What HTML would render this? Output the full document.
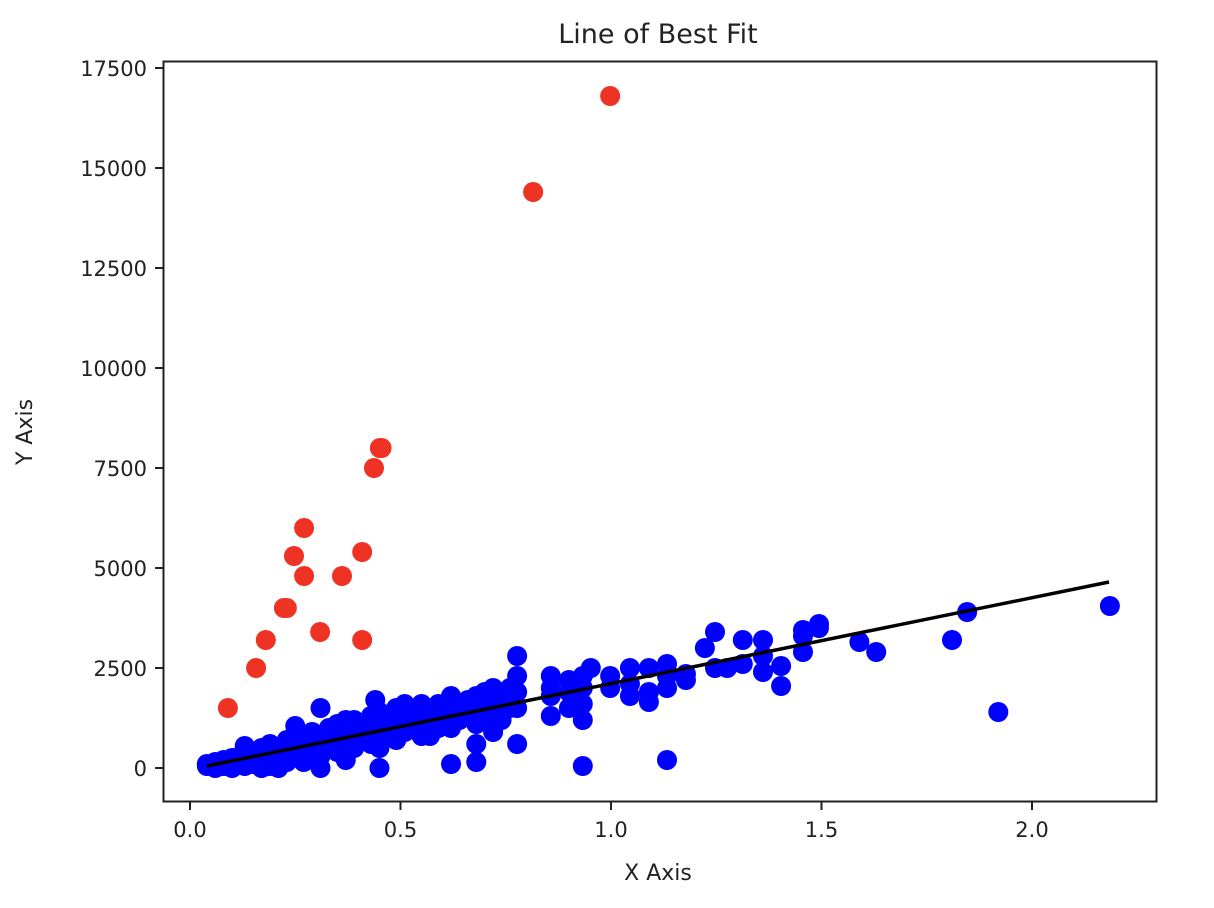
<!DOCTYPE html>
<html><head><meta charset="utf-8"><style>
body{margin:0;background:#fff;}
svg{display:block;font-family:"DejaVu Sans","Liberation Sans",sans-serif;}
</style></head><body>
<svg id="chart" width="1214" height="908" viewBox="0 0 1214 908" xmlns="http://www.w3.org/2000/svg">
<rect width="1214" height="908" fill="#fff"/>
<text x="658" y="43" font-size="27" text-anchor="middle" fill="#222">Line of Best Fit</text>
<text x="658" y="880" font-size="22" text-anchor="middle" fill="#222">X Axis</text>
<text x="0" y="0" font-size="22" text-anchor="middle" fill="#222" transform="translate(32,432) rotate(-90)">Y Axis</text>
<g id="plot"></g>
<g id="xticks"></g>
<g id="yticks"></g>
<rect x="163.5" y="61.5" width="993" height="740" fill="none" stroke="#222" stroke-width="2"/>
</svg>
<script>
const xTicks=[0.0,0.5,1.0,1.5,2.0];
const xTickLabels=["0.0","0.5","1.0","1.5","2.0"];
const yTicks=[0,2500,5000,7500,10000,12500,15000,17500];
const yTickLabels=["0","2500","5000","7500","10000","12500","15000","17500"];
const redPoints=[[0.09,1500],[0.157,2500],[0.18,3200],[0.223,4000],[0.23,4000],[0.247,5300],[0.271,6000],[0.271,4800],[0.309,3400],[0.361,4800],[0.409,5400],[0.409,3200],[0.437,7500],[0.451,8000],[0.455,8000],[0.815,14400],[0.998,16800]];
const bluePoints=[[2.185,4050],[1.92,1400],[1.846,3900],[1.81,3200],[1.63,2900],[1.59,3150],[1.494,3600],[1.494,3500],[1.456,3450],[1.456,2900],[1.456,3300],[1.404,2550],[1.404,2050],[1.361,3200],[1.361,2400],[1.361,2800],[1.313,3200],[1.313,2600],[1.247,3400],[1.247,2500],[1.276,2500],[1.223,3000],[1.178,2350],[1.178,2200],[1.133,2600],[1.133,2000],[1.133,200],[1.133,2300],[1.09,2500],[1.09,1650],[1.09,1900],[1.045,2500],[1.045,1800],[1.045,2100],[0.998,2300],[0.998,2000],[0.952,2500],[0.933,50],[0.933,1200],[0.933,1600],[0.933,2300],[0.933,2000],[0.9,2200],[0.9,1500],[0.9,1900],[0.857,2300],[0.857,1300],[0.857,1800],[0.857,2000],[0.777,2800],[0.777,600],[0.777,2300],[0.777,1500],[0.777,1900],
[0.04,100],[0.04,50],[0.06,150],[0.06,0],[0.08,200],[0.08,50],[0.08,100],[0.1,250],[0.1,0],[0.1,150],[0.12,300],[0.12,100],[0.13,550],[0.13,50],[0.13,200],[0.15,400],[0.15,100],[0.17,350],[0.17,0],[0.17,500],[0.19,600],[0.19,200],[0.19,50],[0.21,500],[0.21,0],[0.21,300],[0.23,700],[0.23,150],[0.23,400],[0.25,1050],[0.25,300],[0.25,600],[0.27,800],[0.27,400],[0.27,150],[0.29,900],[0.29,500],[0.31,1500],[0.31,0],[0.31,700],[0.31,300],[0.33,1000],[0.33,600],[0.35,1100],[0.35,400],[0.35,800],[0.37,900],[0.37,200],[0.37,1200],[0.39,1200],[0.39,700],[0.39,500],[0.41,1100],[0.41,800],[0.43,1300],[0.43,600],[0.43,900],[0.44,1700],[0.44,1000],[0.45,1400],[0.45,0],[0.45,500],[0.45,800],[0.47,1200],[0.47,900],[0.49,1500],[0.49,700],[0.49,1100],[0.51,1600],[0.51,900],[0.51,1300],[0.53,1300],[0.53,1000],[0.55,1600],[0.55,1100],[0.55,800],[0.57,1400],[0.57,800],[0.59,1600],[0.59,1000],[0.59,1200],[0.62,1800],[0.62,100],[0.62,1400],[0.62,1000],[0.64,1500],[0.64,1200],[0.66,1700],[0.66,1300],[0.68,1800],[0.68,150],[0.68,600],[0.68,1100],[0.7,1900],[0.7,1200],[0.7,1500],[0.72,2000],[0.72,900],[0.72,1400],[0.74,1700],[0.74,1200],[0.76,2000],[0.76,1500],
[0.28,600],[0.32,800],[0.36,700],[0.4,1000],[0.46,1100],[0.5,1200],[0.54,1400],[0.58,1100],[0.6,1400],[0.65,1400],[0.69,1600],[0.73,1600],[0.2,400],[0.16,250],[0.24,500],[0.42,1100],[0.52,1000],[0.56,1300],[0.63,1600],[0.67,1500]];
const fitX=[0.04,2.183];
const fitY=[50,4650];

const NS="http://www.w3.org/2000/svg";
const sx=v=>190+v*421;
const sy=v=>768-v*0.04;
function mk(tag,attrs,parent){const e=document.createElementNS(NS,tag);for(const k in attrs)e.setAttribute(k,attrs[k]);parent.appendChild(e);return e;}
const plot=document.getElementById('plot');
bluePoints.forEach(p=>{const c=mk('circle',{cx:sx(p[0]),cy:sy(p[1]),r:10,fill:'#0000ff'},plot);

});
redPoints.forEach(p=>{const c=mk('circle',{cx:sx(p[0]),cy:sy(p[1]),r:10,fill:'#ee3324'},plot);

});
const ln=mk('line',{x1:sx(fitX[0]),y1:sy(fitY[0]),x2:sx(fitX[1]),y2:sy(fitY[1]),stroke:'#000','stroke-width':3.5},plot);


const xg=document.getElementById('xticks');
xTicks.forEach((t,i)=>{mk('line',{x1:sx(t),x2:sx(t),y1:802,y2:810,stroke:'#222','stroke-width':2},xg);
const tx=mk('text',{x:sx(t),y:837,'font-size':21,'text-anchor':'middle',fill:'#222'},xg);tx.textContent=xTickLabels[i];

});
const yg=document.getElementById('yticks');
yTicks.forEach((t,i)=>{mk('line',{x1:155,x2:163,y1:sy(t),y2:sy(t),stroke:'#222','stroke-width':2},yg);
const tx=mk('text',{x:147,y:sy(t)+8,'font-size':21,'text-anchor':'end',fill:'#222'},yg);tx.textContent=yTickLabels[i];

});
</script>
</body></html>
